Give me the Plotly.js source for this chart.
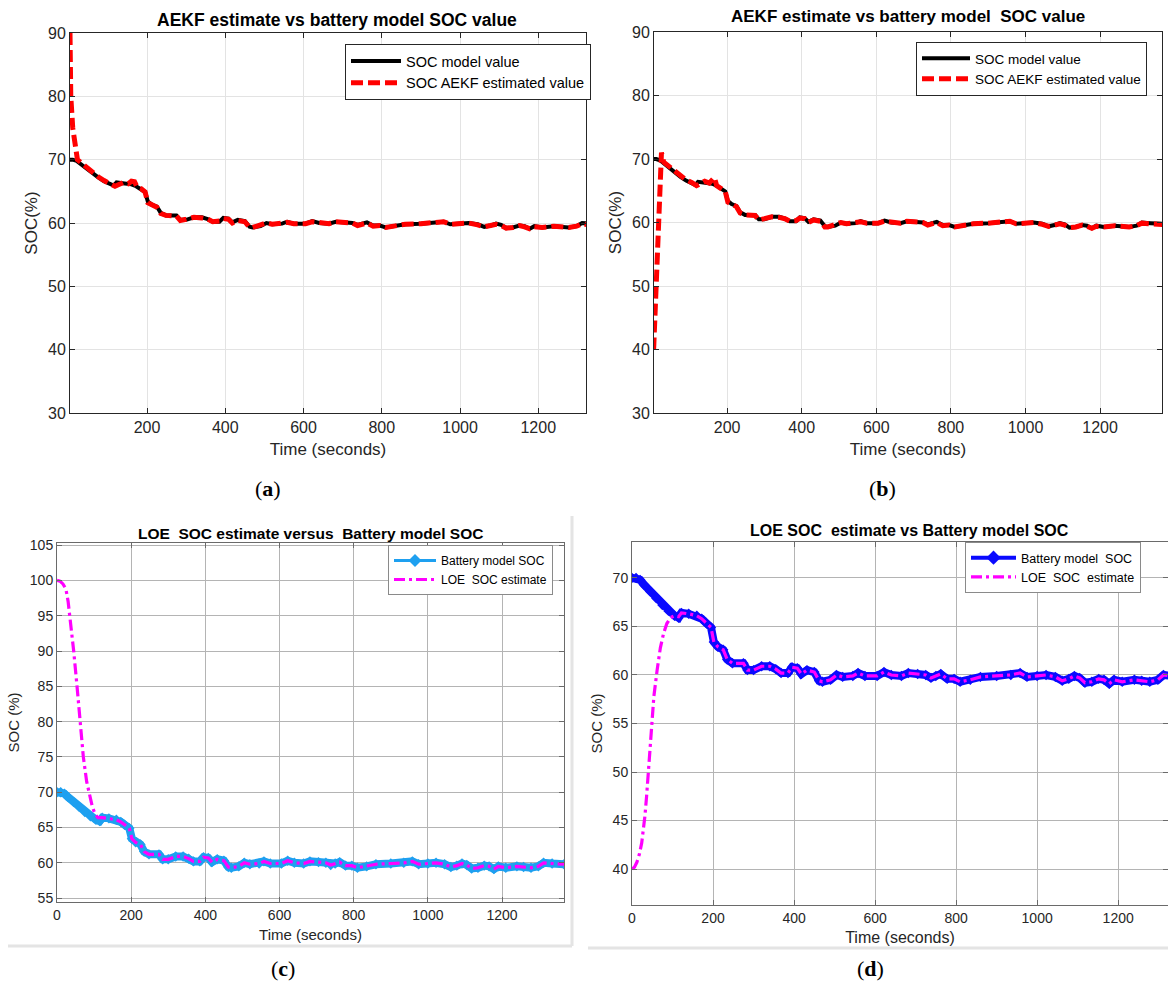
<!DOCTYPE html>
<html>
<head>
<meta charset="utf-8">
<script src="https://cdn.plot.ly/plotly-3.0.1.min.js"></script>
<style>html,body{margin:0;padding:0;background:#fff;}#chart{width:1168px;height:983px;}</style>
</head>
<body>
<div id="chart"></div>
<script>
// ---------------- DATA ----------------
// Battery model SOC (same simulation shown in all four panels)
const modelT = [0, 10, 20, 30, 45, 60, 75, 90, 105, 115, 122, 140, 160, 172, 182, 195, 202, 212, 225, 235, 248, 275, 285, 300, 320, 340, 355, 368, 385, 395, 408, 418, 432, 450, 462, 470, 490, 505, 520, 545, 558, 575, 605, 622, 640, 665, 682, 705, 725, 738, 750, 762, 778, 795, 810, 835, 860, 900, 935, 958, 975, 1000, 1022, 1045, 1062, 1078, 1092, 1105, 1118, 1135, 1152, 1165, 1178, 1190, 1210, 1240, 1258, 1278, 1298, 1312, 1335, 1367];
const modelSOC = [70.0, 70.0, 69.8, 69.3, 68.6, 67.9, 67.2, 66.6, 66.1, 65.9, 66.4, 66.3, 66.1, 65.8, 65.4, 64.9, 63.4, 62.9, 62.6, 61.6, 61.2, 61.2, 60.5, 60.5, 60.9, 60.9, 60.6, 60.2, 60.2, 60.8, 60.7, 60.1, 60.5, 60.3, 59.4, 59.3, 59.5, 60.0, 59.8, 59.9, 60.2, 59.9, 59.9, 60.3, 60.0, 59.9, 60.2, 60.1, 60.0, 59.7, 59.9, 60.1, 59.6, 59.6, 59.3, 59.5, 59.8, 59.9, 60.0, 60.2, 59.8, 59.9, 60.0, 59.8, 59.4, 59.6, 59.9, 59.7, 59.2, 59.3, 59.6, 59.5, 59.1, 59.5, 59.3, 59.5, 59.4, 59.3, 59.5, 60.0, 59.9, 59.8];

// (a) AEKF estimate, initial SOC 90 %
const aekfAT = [3, 5, 10, 22, 30, 45, 60, 75, 90, 105, 118, 125, 140, 152, 160, 168, 175, 185, 195, 202, 212, 225, 235, 248, 275, 285, 300, 320, 340, 355, 368, 385, 395, 408, 418, 432, 450, 462, 470, 490, 505, 520, 545, 558, 575, 605, 622, 640, 665, 682, 705, 725, 738, 750, 762, 778, 795, 810, 835, 860, 900, 935, 958, 975, 1000, 1022, 1045, 1062, 1078, 1092, 1105, 1118, 1135, 1152, 1165, 1178, 1190, 1210, 1240, 1258, 1278, 1298, 1312, 1335];
const aekfA = [90, 80, 75, 70, 69.6, 68.8, 68.0, 67.3, 66.7, 66.3, 65.8, 66.0, 66.4, 66.2, 66.6, 66.5, 65.6, 65.4, 64.9, 63.2, 62.9, 62.5, 61.5, 61.2, 61.1, 60.4, 60.6, 60.9, 60.8, 60.6, 60.2, 60.3, 60.7, 60.6, 60.0, 60.4, 60.2, 59.3, 59.3, 59.6, 60.0, 59.8, 59.9, 60.1, 59.9, 59.9, 60.2, 60.0, 59.9, 60.2, 60.0, 60.0, 59.6, 59.9, 60.0, 59.5, 59.6, 59.3, 59.5, 59.8, 59.9, 60.0, 60.2, 59.8, 59.9, 60.0, 59.7, 59.4, 59.6, 59.8, 59.6, 59.2, 59.3, 59.6, 59.4, 59.1, 59.4, 59.3, 59.5, 59.4, 59.3, 59.5, 59.9, 59.6];

// (b) AEKF estimate, initial SOC 40 %
const aekfBT = [3, 12, 24, 30, 45, 60, 75, 90, 105, 118, 125, 140, 152, 162, 166, 172, 185, 195, 202, 212, 225, 235, 248, 275, 285, 300, 320, 340, 355, 368, 385, 395, 408, 418, 432, 450, 462, 470, 490, 505, 520, 545, 558, 575, 605, 622, 640, 665, 682, 705, 725, 738, 750, 762, 778, 795, 810, 835, 860, 900, 935, 958, 975, 1000, 1022, 1045, 1062, 1078, 1092, 1105, 1118, 1135, 1152, 1165, 1178, 1190, 1210, 1240, 1258, 1278, 1298, 1312, 1335, 1367];
const aekfB = [40, 54, 71, 69.5, 68.8, 68.0, 67.3, 66.7, 66.3, 65.8, 66.0, 66.5, 66.2, 67.0, 67.1, 65.8, 65.4, 64.9, 63.2, 62.9, 62.5, 61.5, 61.2, 61.1, 60.4, 60.6, 60.9, 60.8, 60.6, 60.2, 60.3, 60.7, 60.6, 60.0, 60.4, 60.2, 59.3, 59.3, 59.6, 60.0, 59.8, 59.9, 60.1, 59.9, 59.9, 60.2, 60.0, 59.9, 60.2, 60.0, 60.0, 59.6, 59.9, 60.0, 59.5, 59.6, 59.3, 59.5, 59.8, 59.9, 60.0, 60.2, 59.8, 59.9, 60.0, 59.7, 59.4, 59.6, 59.8, 59.6, 59.2, 59.3, 59.6, 59.4, 59.1, 59.4, 59.3, 59.5, 59.4, 59.3, 59.5, 59.9, 59.8, 59.7];

// (c) LOE estimate, initial SOC 100 %
const loeCT = [0, 8, 16, 24, 30, 36, 45, 54, 62, 71, 80, 88, 95, 102, 110, 122, 140, 160, 172, 182, 195, 202, 212, 225, 235, 248, 275, 285, 300, 320, 340, 355, 368, 385, 395, 408, 418, 432, 450, 462, 470, 490, 505, 520, 545, 558, 575, 605, 622, 640, 665, 682, 705, 725, 738, 750, 762, 778, 795, 810, 835, 860, 900, 935, 958, 975, 1000, 1022, 1045, 1062, 1078, 1092, 1105, 1118, 1135, 1152, 1165, 1178, 1190, 1210, 1240, 1258, 1278, 1298, 1312, 1335, 1367];
const loeC = [100, 99.9, 99.5, 98.8, 97.0, 94.5, 90.0, 85.0, 80.0, 75.0, 71.5, 69.5, 68.0, 67.0, 66.4, 66.4, 66.3, 66.1, 65.8, 65.4, 64.9, 63.4, 62.9, 62.6, 61.6, 61.2, 61.2, 60.5, 60.5, 60.9, 60.9, 60.6, 60.2, 60.2, 60.8, 60.7, 60.1, 60.5, 60.3, 59.4, 59.3, 59.5, 60.0, 59.8, 59.9, 60.2, 59.9, 59.9, 60.3, 60.0, 59.9, 60.2, 60.1, 60.0, 59.7, 59.9, 60.1, 59.6, 59.6, 59.3, 59.5, 59.8, 59.9, 60.0, 60.2, 59.8, 59.9, 60.0, 59.8, 59.4, 59.6, 59.9, 59.7, 59.2, 59.3, 59.6, 59.5, 59.1, 59.5, 59.3, 59.5, 59.4, 59.3, 59.5, 60.0, 59.9, 59.8];

// (d) LOE estimate, initial SOC 40 %
const loeDT = [0, 6, 12, 18, 24, 28, 32, 36, 40, 44, 48, 54, 62, 70, 78, 86, 95, 105, 115, 122, 140, 160, 172, 182, 195, 202, 212, 225, 235, 248, 275, 285, 300, 320, 340, 355, 368, 385, 395, 408, 418, 432, 450, 462, 470, 490, 505, 520, 545, 558, 575, 605, 622, 640, 665, 682, 705, 725, 738, 750, 762, 778, 795, 810, 835, 860, 900, 935, 958, 975, 1000, 1022, 1045, 1062, 1078, 1092, 1105, 1118, 1135, 1152, 1165, 1178, 1190, 1210, 1240, 1258, 1278, 1298, 1312, 1335, 1367];
const loeD = [40.0, 40.2, 40.7, 41.5, 42.7, 44.0, 45.5, 47.5, 50.0, 52.5, 55.0, 57.8, 60.5, 62.8, 64.3, 65.3, 65.9, 66.1, 66.0, 66.4, 66.3, 66.1, 65.8, 65.4, 64.9, 63.4, 62.9, 62.6, 61.6, 61.2, 61.2, 60.5, 60.5, 60.9, 60.9, 60.6, 60.2, 60.2, 60.8, 60.7, 60.1, 60.5, 60.3, 59.4, 59.3, 59.5, 60.0, 59.8, 59.9, 60.2, 59.9, 59.9, 60.3, 60.0, 59.9, 60.2, 60.1, 60.0, 59.7, 59.9, 60.1, 59.6, 59.6, 59.3, 59.5, 59.8, 59.9, 60.0, 60.2, 59.8, 59.9, 60.0, 59.8, 59.4, 59.6, 59.9, 59.7, 59.2, 59.3, 59.6, 59.5, 59.1, 59.5, 59.3, 59.5, 59.4, 59.3, 59.5, 60.0, 59.9, 59.8];

// Labels
const panelTitles = ['AEKF estimate vs battery model SOC value', 'AEKF estimate vs battery model  SOC value', 'LOE  SOC estimate versus  Battery model SOC', 'LOE SOC  estimate vs Battery model SOC'];
const panelTags = ['a', 'b', 'c', 'd'];
const seriesNames = {
  a: ['SOC model value', 'SOC AEKF estimated value'],
  b: ['SOC model value', 'SOC AEKF estimated value'],
  c: ['Battery model SOC', 'LOE  SOC estimate'],
  d: ['Battery model  SOC', 'LOE  SOC  estimate']
};
const xTitle = 'Time (seconds)';
const yTitles = ['SOC(%)', 'SOC(%)', 'SOC (%)', 'SOC (%)'];

// ---------------- LAYOUT HELPERS ----------------
const W = 1168, H = 983;
const px = v => v / W;
const py = v => 1 - v / H;
const FONT = 'Liberation Sans, Arial, Helvetica, sans-serif';
const SERIF = 'Liberation Serif, Times New Roman, serif';
const INK = '#262626';

function xax(d0, d1, r, dtick, fs, tfs, lc, gc, yref, stand) {
  return {
    domain: [px(d0), px(d1)], range: r, anchor: yref, dtick: dtick, tick0: 0,
    showgrid: true, gridcolor: gc, gridwidth: 1, zeroline: false,
    showline: true, linecolor: lc, linewidth: 1, mirror: 'ticks',
    ticks: 'inside', ticklen: 5, tickcolor: lc,
    tickfont: {family: FONT, size: fs, color: INK},
    title: {text: xTitle, font: {family: FONT, size: tfs, color: INK}, standoff: stand}
  };
}
function yax(t0, t1, r, dtick, fs, lc, gc, xref, title, tfs) {
  return {
    domain: [py(t1), py(t0)], range: r, anchor: xref, dtick: dtick, tick0: 0,
    showgrid: true, gridcolor: gc, gridwidth: 1, zeroline: false,
    showline: true, linecolor: lc, linewidth: 1, mirror: 'ticks',
    ticks: 'inside', ticklen: 5, tickcolor: lc,
    tickfont: {family: FONT, size: fs, color: INK},
    title: {text: title, font: {family: FONT, size: tfs, color: INK}, standoff: 6}
  };
}

const EST_DASH = '12px,5px';
const LOE_DASH = '11px,4px,3px,4px';
const BLUE_C = '#1ea0f0', BLUE_D = '#0a0aff';
const traces = [
  {x: modelT, y: modelSOC, xaxis: 'x', yaxis: 'y', name: seriesNames.a[0], legend: 'legend', mode: 'lines',
   line: {color: '#000000', width: 4}},
  {x: aekfAT, y: aekfA, xaxis: 'x', yaxis: 'y', name: seriesNames.a[1], legend: 'legend', mode: 'lines',
   line: {color: '#ff0000', width: 5, dash: EST_DASH}},
  {x: modelT, y: modelSOC, xaxis: 'x2', yaxis: 'y2', name: seriesNames.b[0], legend: 'legend2', mode: 'lines',
   line: {color: '#000000', width: 4}},
  {x: aekfBT, y: aekfB, xaxis: 'x2', yaxis: 'y2', name: seriesNames.b[1], legend: 'legend2', mode: 'lines',
   line: {color: '#ff0000', width: 5, dash: EST_DASH}},
  // (c) model band: drawn trace, legend shown by a thin-lined legend entry below
  {x: modelT, y: modelSOC, xaxis: 'x3', yaxis: 'y3', name: seriesNames.c[0], showlegend: false, mode: 'lines+markers',
   line: {color: BLUE_C, width: 8}, marker: {symbol: 'diamond', size: 8, color: BLUE_C}},
  {x: [null], y: [null], xaxis: 'x3', yaxis: 'y3', name: seriesNames.c[0], legend: 'legend3', mode: 'lines+markers',
   line: {color: BLUE_C, width: 3}, marker: {symbol: 'diamond', size: 10, color: BLUE_C}},
  {x: loeCT, y: loeC, xaxis: 'x3', yaxis: 'y3', name: seriesNames.c[1], legend: 'legend3', mode: 'lines',
   line: {color: '#ff00ff', width: 3.2, dash: LOE_DASH}},
  {x: modelT, y: modelSOC, xaxis: 'x4', yaxis: 'y4', name: seriesNames.d[0], showlegend: false, mode: 'lines+markers',
   line: {color: BLUE_D, width: 8}, marker: {symbol: 'diamond', size: 8, color: BLUE_D}},
  {x: [null], y: [null], xaxis: 'x4', yaxis: 'y4', name: seriesNames.d[0], legend: 'legend4', mode: 'lines+markers',
   line: {color: BLUE_D, width: 4}, marker: {symbol: 'diamond', size: 11, color: BLUE_D}},
  {x: loeDT, y: loeD, xaxis: 'x4', yaxis: 'y4', name: seriesNames.d[1], legend: 'legend4', mode: 'lines',
   line: {color: '#ff00ff', width: 3.2, dash: LOE_DASH}}
];

function leg(x, y, fs, bc, iw) {
  return {x: px(x), y: py(y), xref: 'paper', yref: 'paper', xanchor: 'left', yanchor: 'top',
    bgcolor: '#ffffff', bordercolor: bc, borderwidth: 1, tracegroupgap: 0, itemwidth: iw,
    font: {family: FONT, size: fs, color: '#000'}};
}

const GRID_AB = '#e3e3e3', GRID_CD = '#b4b4b4';
const layout = {
  width: W, height: H, margin: {l: 0, r: 0, t: 0, b: 0},
  paper_bgcolor: '#ffffff', plot_bgcolor: '#ffffff', showlegend: true,
  xaxis:  xax(70, 586, [3, 1322], 200, 16, 17, INK, GRID_AB, 'y', 7),
  yaxis:  yax(33, 413, [30, 90], 10, 16, INK, GRID_AB, 'x', yTitles[0], 17),
  xaxis2: xax(654, 1162, [4, 1366], 200, 16, 17, INK, GRID_AB, 'y2', 7),
  yaxis2: yax(32, 413, [30, 90], 10, 16, INK, GRID_AB, 'x2', yTitles[1], 17),
  xaxis3: xax(57, 564, [0, 1367], 200, 14, 15, '#6a6a6a', GRID_CD, 'y3', 7),
  yaxis3: yax(543, 902, [54.45, 105.3], 5, 14, '#6a6a6a', GRID_CD, 'x3', yTitles[2], 15),
  xaxis4: xax(632, 1168, [0, 1323], 200, 14, 16, '#6a6a6a', GRID_CD, 'y4', 7),
  yaxis4: yax(542, 905, [36.3, 73.7], 5, 14, '#6a6a6a', GRID_CD, 'x4', yTitles[3], 15),
  legend:  leg(345, 44, 14.5, INK, 50),
  legend2: leg(916, 42, 13.5, INK, 48),
  legend3: leg(388, 545, 12, '#8a8a8a', 42),
  legend4: leg(965, 542, 12.5, '#8a8a8a', 45),
  annotations: [
    {text: '<b>' + panelTitles[0] + '</b>', x: px(337), y: py(20), font: {size: 17.5}},
    {text: '<b>' + panelTitles[1] + '</b>', x: px(908), y: py(17), font: {size: 17}},
    {text: '<b>' + panelTitles[2] + '</b>', x: px(310), y: py(533), font: {size: 15.5}},
    {text: '<b>' + panelTitles[3] + '</b>', x: px(910), y: py(530), font: {size: 16}},
    {text: '(<b>' + panelTags[0] + '</b>)', x: px(268), y: py(488), font: {size: 22, family: SERIF}},
    {text: '(<b>' + panelTags[1] + '</b>)', x: px(882), y: py(488), font: {size: 22, family: SERIF}},
    {text: '(<b>' + panelTags[2] + '</b>)', x: px(283), y: py(968), font: {size: 22, family: SERIF}},
    {text: '(<b>' + panelTags[3] + '</b>)', x: px(870), y: py(968), font: {size: 22, family: SERIF}}
  ].map(a => Object.assign({xref: 'paper', yref: 'paper', showarrow: false, xanchor: 'center', yanchor: 'middle'}, a,
        {font: Object.assign({family: FONT, color: '#000'}, a.font)})),
  shapes: [
    {type: 'line', xref: 'paper', yref: 'paper', x0: px(8), x1: px(572), y0: py(946), y1: py(946), line: {color: '#e4e4e4', width: 3}},
    {type: 'line', xref: 'paper', yref: 'paper', x0: px(572), x1: px(572), y0: py(516), y1: py(946), line: {color: '#e4e4e4', width: 3}},
    {type: 'line', xref: 'paper', yref: 'paper', x0: px(588), x1: px(1168), y0: py(948), y1: py(948), line: {color: '#e4e4e4', width: 3}}
  ]
};

Plotly.newPlot('chart', traces, layout, {displayModeBar: false, staticPlot: true});
</script>
</body>
</html>
